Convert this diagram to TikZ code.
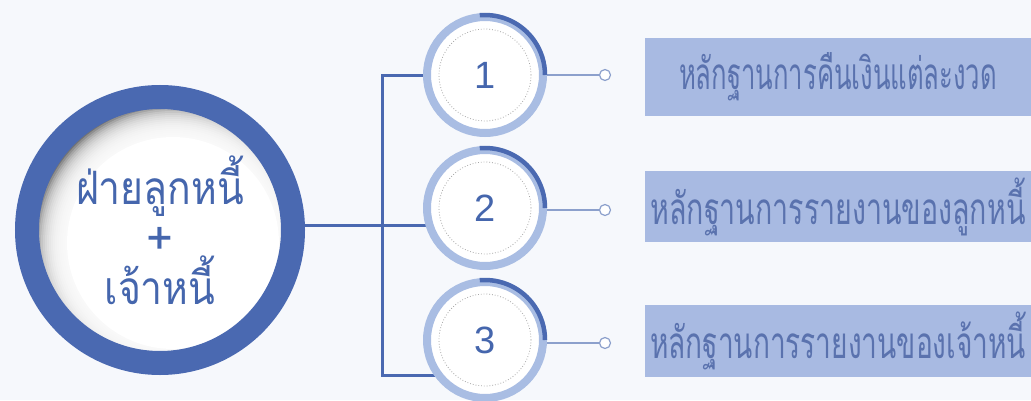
\documentclass[tikz,border=0pt]{standalone}
\usepackage{fontspec}
\setmainfont{Liberation Sans}
\newfontfamily\thai[Script=Thai]{Loma}
\usepackage{graphicx}
\definecolor{ringblue}{HTML}{4A69B1}
\definecolor{lightring}{HTML}{A9BDE3}
\definecolor{boxfill}{HTML}{A8BAE2}
\definecolor{boxtext}{HTML}{5A72AE}
\definecolor{txtblue}{HTML}{4566AD}
\definecolor{pinline}{HTML}{8CA0CC}
\definecolor{bgtint}{HTML}{F6F8FC}
\pgfdeclarelayer{back}
\pgfdeclarelayer{lines}
\pgfsetlayers{back,lines,main}
\tikzset{
  bigring/.style={circle, minimum size=266pt, inner sep=0pt, draw=ringblue, line width=24pt,
    text=txtblue, align=center, font=\thai\fontsize{46}{50}\selectfont},
  numcircle/.style={circle, minimum size=116pt, inner sep=0pt, draw=lightring, line width=8pt,
    fill=white, text=txtblue, font=\fontsize{38}{38}\selectfont},
  innerdots/.style={draw=gray!70, dotted, line width=0.8pt},
  darkarc/.style={draw=ringblue, line width=4.5pt},
  conn/.style={draw=ringblue, line width=3pt},
  pinline/.style={draw=pinline, line width=1.2pt},
  pindot/.style={circle, minimum size=11pt, inner sep=0pt, draw=pinline, line width=1.2pt, fill=white},
  infobox/.style={rectangle, fill=boxfill, minimum width=386pt, inner sep=0pt,
    text=boxtext, font=\thai\fontsize{44}{44}\selectfont}
}
\begin{document}
\begin{tikzpicture}[x=1pt,y=1pt]
\useasboundingbox (0,0) rectangle (1031,400);
\begin{pgfonlayer}{back}
\fill[bgtint] (0,0) rectangle (1031,400);
\end{pgfonlayer}
% inner shadow of the big circle
\begin{scope}
\clip (160,170) circle (122);
\fill[black!55] (160,170) circle (122);
\foreach \i in {0,...,15} \fill[white, opacity=0.2] (173,157) circle ({138-\i*2});
\fill[white] (173,157) circle (106);
\end{scope}
\node[bigring] (big) at (160,170) {\scalebox{0.85}[1]{ฝ่ายลูกหนี้}\\+\\\scalebox{0.85}[1]{เจ้าหนี้}};
% numbered circles
\node[numcircle] (c1) at (485,325) {1};
\node[numcircle] (c2) at (485,192) {2};
\node[numcircle] (c3) at (485,60) {3};
\foreach \c in {c1,c2,c3}{
  \draw[innerdots] (\c.center) circle (46);
  \draw[darkarc] ([shift={(95:60)}]\c.center) arc (95:0:60);
}
% pins
\node[pindot] (p1) at (605,325) {};
\node[pindot] (p2) at (605,190) {};
\node[pindot] (p3) at (605,57) {};
% boxes
\node[infobox, minimum height=78pt] (b1) at (838,323) {\resizebox{318pt}{\height}{หลักฐานการคืนเงินแต่ละงวด}};
\node[infobox, minimum height=71pt] (b2) at (838,193.5) {\resizebox{375pt}{\height}{หลักฐานการรายงานของลูกหนี้}};
\node[infobox, minimum height=72pt] (b3) at (838,59) {\resizebox{376pt}{\height}{หลักฐานการรายงานของเจ้าหนี้}};
% connectors
\coordinate (j1) at (382,325);
\coordinate (j2) at (382,175);
\coordinate (j3) at (382,25);
\begin{pgfonlayer}{lines}
\draw[conn] (big.center |- j2) -- (j2 -| c2.center);
\draw[conn] (c1.center) -- (j1) -- (j3) -- (j3 -| c3.center);
\draw[pinline] (c1) -- (p1);
\draw[pinline] (c2.center |- p2) -- (p2);
\draw[pinline] (c3.center |- p3) -- (p3);
\end{pgfonlayer}
\end{tikzpicture}
\end{document}
